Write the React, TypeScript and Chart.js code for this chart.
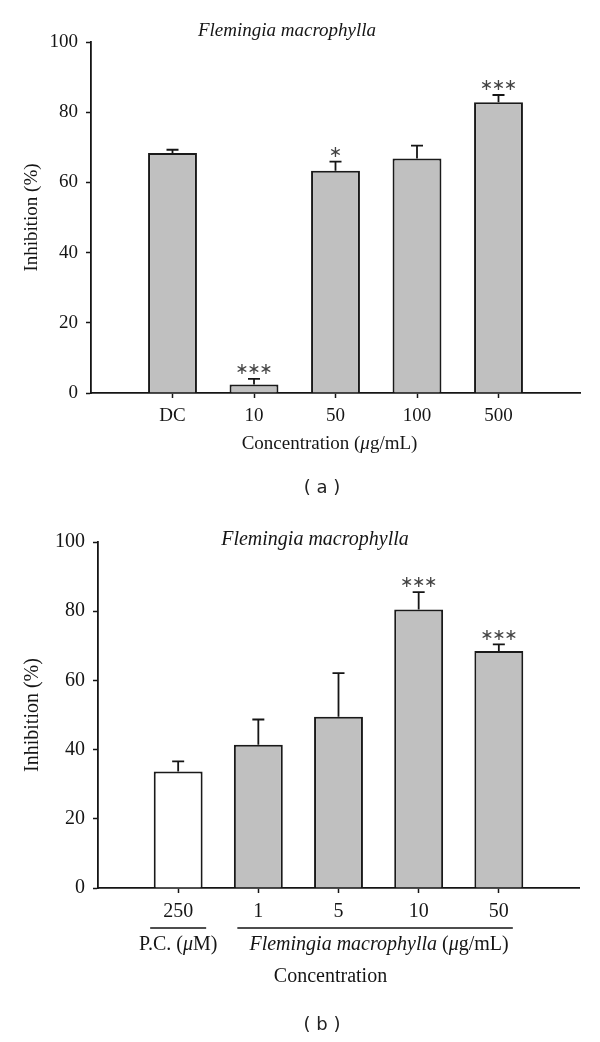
import React, { useEffect, useRef } from 'react';
import { Chart, registerables } from 'chart.js';

Chart.register(...registerables);

const SERIF = "'Liberation Serif', 'Times New Roman', serif";
const SANS = "'DejaVu Sans', Verdana, sans-serif";
const INK = '#151515';

// ---------- Panel (a) ----------
const catsA = ['DC', '10', '50', '100', '500'];
const meanA = [68.4, 2.4, 63.3, 66.8, 82.8];
const errA = [0.9, 1.6, 2.6, 3.7, 2.1];
const sigA = ['', '***', '*', '', '***'];
const fillA = ['#c0c0c0', '#c0c0c0', '#c0c0c0', '#c0c0c0', '#c0c0c0'];

// ---------- Panel (b) ----------
const catsB = ['250', '1', '5', '10', '50'];
const meanB = [33.7, 41.4, 49.5, 80.5, 68.5];
const errB = [2.9, 7.3, 12.6, 5.0, 1.9];
const sigB = ['', '', '', '***', '***'];
const fillB = ['#ffffff', '#c0c0c0', '#c0c0c0', '#c0c0c0', '#c0c0c0'];

const yMin = 0;
const yMax = 100;
const yStep = 20;
const yTitle = 'Inhibition (%)';
const plotTitle = 'Flemingia macrophylla';

type Part = [string, boolean];

function drawRich(ctx: CanvasRenderingContext2D, parts: Part[], cx: number, cy: number, size: number) {
  const fontOf = (it: boolean) => `${it ? 'italic ' : ''}${size}px ${SERIF}`;
  let total = 0;
  const widths = parts.map(([t, it]) => {
    ctx.font = fontOf(it);
    const w = ctx.measureText(t).width;
    total += w;
    return w;
  });
  let x = cx - total / 2;
  ctx.textAlign = 'left';
  ctx.textBaseline = 'middle';
  parts.forEach(([t, it], i) => {
    ctx.font = fontOf(it);
    ctx.fillText(t, x, cy);
    x += widths[i];
  });
}

interface PanelProps {
  cats: string[];
  means: number[];
  errs: number[];
  sig: string[];
  fills: string[];
  height: number;
  padTop: number;
  padRight: number;
  yAxisW: number;
  xAxisH: number;
  font: number;
  barPct: number;
  titleX: number;
  titleY: number;
  variant: 'a' | 'b';
}

function Panel(p: PanelProps) {
  const ref = useRef<HTMLCanvasElement>(null);
  useEffect(() => {
    if (!ref.current) return;
    const labels = ['', ...p.cats, ''];
    const data = [null, ...p.means, null];
    const fills = ['#ffffff', ...p.fills, '#ffffff'];
    const last = labels.length - 1;

    const annot = {
      id: 'annot',
      afterDraw(chart: any) {
        const { ctx, chartArea: ca } = chart;
        const x = chart.scales.x;
        const y = chart.scales.y;
        ctx.save();
        // error bars and significance stars
        p.means.forEach((m, i) => {
          const cx = x.getPixelForValue(i + 1);
          const y0 = y.getPixelForValue(m);
          const y1 = y.getPixelForValue(m + p.errs[i]);
          ctx.strokeStyle = INK;
          ctx.lineWidth = 1.8;
          ctx.beginPath();
          ctx.moveTo(cx, y0);
          ctx.lineTo(cx, y1);
          ctx.moveTo(cx - 6, y1);
          ctx.lineTo(cx + 6, y1);
          ctx.stroke();
          const n = p.sig[i].length;
          ctx.fillStyle = '#444';
          ctx.font = `16px ${SANS}`;
          ctx.textAlign = 'center';
          ctx.textBaseline = 'middle';
          for (let k = 0; k < n; k++) {
            ctx.fillText('\u2217', cx + (k - (n - 1) / 2) * 12, y1 - 9);
          }
        });
        ctx.fillStyle = INK;
        // plot title
        drawRich(ctx, [[plotTitle, true]], p.titleX, p.titleY, p.font);
        const midX = (ca.left + ca.right) / 2;
        if (p.variant === 'a') {
          drawRich(ctx, [['Concentration (', false], ['\u03bc', true], ['g/mL)', false]], midX - 6, ca.bottom + 51, p.font);
          ctx.fillStyle = '#222';
          ctx.font = `18px ${SANS}`;
          ctx.textAlign = 'center';
          ctx.textBaseline = 'middle';
          ctx.fillText('( a )', 314, ca.bottom + 95);
        } else {
          const xPC = x.getPixelForValue(1);
          const xF1 = x.getPixelForValue(2);
          const xF2 = x.getPixelForValue(5);
          const ly = ca.bottom + 40;
          ctx.strokeStyle = INK;
          ctx.lineWidth = 1.5;
          ctx.beginPath();
          ctx.moveTo(xPC - 28, ly);
          ctx.lineTo(xPC + 28, ly);
          ctx.moveTo(xF1 - 21, ly);
          ctx.lineTo(xF2 + 14, ly);
          ctx.stroke();
          drawRich(ctx, [['P.C. (', false], ['\u03bc', true], ['M)', false]], xPC, ca.bottom + 57, p.font);
          drawRich(ctx, [['Flemingia macrophylla', true], [' (', false], ['\u03bc', true], ['g/mL)', false]], (xF1 - 21 + xF2 + 14) / 2 + 4, ca.bottom + 57, p.font);
          drawRich(ctx, [['Concentration', false]], midX - 8, ca.bottom + 89, p.font);
          ctx.fillStyle = '#222';
          ctx.font = `18px ${SANS}`;
          ctx.textAlign = 'center';
          ctx.textBaseline = 'middle';
          ctx.fillText('( b )', 314, ca.bottom + 137);
        }
        ctx.restore();
      },
    };

    const chart = new Chart(ref.current, {
      type: 'bar',
      data: {
        labels,
        datasets: [
          {
            data: data as any,
            backgroundColor: fills,
            borderColor: '#1a1a1a',
            borderWidth: 2,
            categoryPercentage: 1,
            barPercentage: p.barPct,
          },
        ],
      },
      options: {
        responsive: false,
        animation: false,
        layout: { padding: { left: 0, right: p.padRight, top: p.padTop, bottom: 0 } },
        plugins: {
          legend: { display: false },
          tooltip: { enabled: false },
          title: { display: false },
        },
        scales: {
          x: {
            type: 'category',
            offset: false,
            grid: {
              display: true,
              offset: false,
              drawOnChartArea: false,
              drawTicks: true,
              tickLength: 5,
              tickWidth: 1.5,
              tickColor: (c: any) => (c.index === 0 || c.index === last ? 'rgba(0,0,0,0)' : INK),
            },
            border: { display: true, color: INK, width: 1.8 },
            ticks: {
              font: { family: SERIF, size: p.font },
              color: INK,
              padding: 7,
              maxRotation: 0,
              autoSkip: false,
            },
            afterFit: (s: any) => {
              s.height = p.xAxisH;
            },
          },
          y: {
            min: yMin,
            max: yMax,
            ticks: {
              stepSize: yStep,
              font: { family: SERIF, size: p.font },
              color: INK,
              padding: 8,
            },
            grid: {
              display: true,
              drawOnChartArea: false,
              drawTicks: true,
              tickLength: 5,
              tickWidth: 1.5,
              tickColor: INK,
            },
            border: { display: true, color: INK, width: 1.8 },
            title: {
              display: true,
              text: yTitle,
              font: { family: SERIF, size: p.font },
              color: INK,
              padding: { top: 13, bottom: 0 },
            },
            afterFit: (s: any) => {
              s.width = p.yAxisW;
            },
          },
        },
      } as any,
      plugins: [annot],
    });
    return () => chart.destroy();
  }, []);
  return <canvas ref={ref} width={584} height={p.height} style={{ display: 'block' }} />;
}

export default function App() {
  return (
    <div style={{ width: 584 }}>
      <Panel
        cats={catsA}
        means={meanA}
        errs={errA}
        sig={sigA}
        fills={fillA}
        height={492}
        padTop={34}
        padRight={12}
        yAxisW={83}
        xAxisH={107}
        font={19}
        barPct={0.6}
        titleX={279}
        titleY={23}
        variant="a"
      />
      <Panel
        cats={catsB}
        means={meanB}
        errs={errB}
        sig={sigB}
        fills={fillB}
        height={534}
        padTop={42}
        padRight={13}
        yAxisW={90}
        xAxisH={146}
        font={20}
        barPct={0.61}
        titleX={307}
        titleY={40}
        variant="b"
      />
    </div>
  );
}
